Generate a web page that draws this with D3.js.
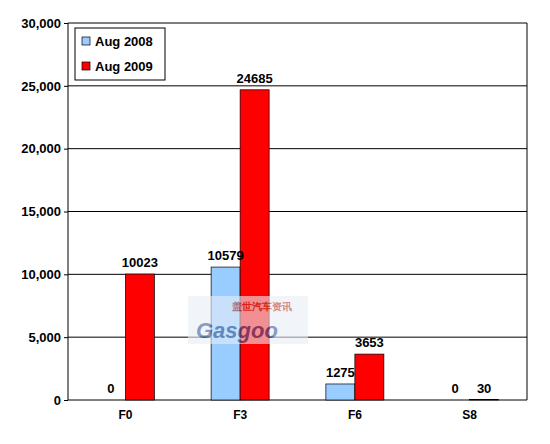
<!DOCTYPE html><html><head><meta charset="utf-8">
<script src="https://cdn.jsdelivr.net/npm/d3@7"></script>
<style>body{margin:0;background:#fff}text{font-family:"Liberation Sans",Arial,sans-serif;font-weight:bold}</style>
</head><body><svg id="c" width="550" height="444"></svg>
<script>
const categories=["F0","F3","F6","S8"];
const series2008=[0,10579,1275,0];
const series2009=[10023,24685,3653,30];
const seriesNames=["Aug 2008","Aug 2009"];
const colors=["#99ccff","#ff0000"];
const yTicks=[0,5000,10000,15000,20000,25000,30000];
const svg=d3.select("#c");
const L=68,R=527,T=23,B=400;
const x=d3.scaleBand().domain(categories).range([L,R]);
const y=d3.scaleLinear().domain([0,30000]).range([B,T]);
const g=svg.append("g");
g.selectAll(".grid").data(yTicks).join("line").attr("x1",L).attr("x2",R).attr("y1",d=>y(d)).attr("y2",d=>y(d)).attr("stroke","#000").attr("stroke-width",1);
g.append("line").attr("x1",L).attr("x2",L).attr("y1",T).attr("y2",B).attr("stroke","#000");
g.append("line").attr("x1",R).attr("x2",R).attr("y1",T).attr("y2",B).attr("stroke","#000");
const yAx=svg.append("g").attr("transform",`translate(${L},0)`).call(d3.axisLeft(y).tickValues(yTicks).tickFormat(d3.format(",")).tickSize(4));
yAx.select(".domain").remove();
yAx.selectAll("text").attr("font-size",13).attr("font-weight","bold").attr("fill","#000").attr("font-family","Liberation Sans");
const xAx=svg.append("g").attr("transform",`translate(0,${B})`).call(d3.axisBottom(x).tickSize(0).tickPadding(10));
xAx.select(".domain").remove();
xAx.selectAll("text").attr("font-size",12).attr("font-weight","bold").attr("fill","#000").attr("font-family","Liberation Serif");
const bw=29;
const data=[series2008,series2009];
data.forEach((s,i)=>{
 svg.selectAll(".b"+i).data(categories).join("rect")
  .attr("x",d=>x(d)+x.bandwidth()/2+(i-1)*bw).attr("width",bw)
  .attr("y",(d,j)=>y(s[j])).attr("height",(d,j)=>B-y(s[j]))
  .attr("fill",colors[i]).attr("stroke","#000").attr("stroke-width",0.7);
});
// watermark
const wm=svg.append("g").attr("opacity",0.6);
wm.append("rect").attr("x",188).attr("y",296).attr("width",120).attr("height",48).attr("fill","#e8eef6");
wm.append("text").attr("x",196).attr("y",338).attr("font-size",22).attr("fill","#3a5a9a").attr("font-style","italic").text("Gasgoo");
wm.append("text").attr("x",232).attr("y",310).attr("font-size",10).attr("fill","#c0392b").attr("font-family","Noto Sans CJK SC").text("盖世汽车资讯");
data.forEach((s,i)=>{
 svg.selectAll(".l"+i).data(categories).join("text")
  .attr("x",d=>x(d)+x.bandwidth()/2+(i-0.5)*bw).attr("y",(d,j)=>y(s[j])-7)
  .attr("text-anchor","middle").attr("font-size",13).text((d,j)=>s[j]);
});
const lg=svg.append("g");
lg.append("rect").attr("x",75).attr("y",28).attr("width",90).attr("height",52).attr("fill","#fff").attr("stroke","#000");
seriesNames.forEach((n,i)=>{
 lg.append("rect").attr("x",82).attr("y",37+i*25).attr("width",8).attr("height",8).attr("fill",colors[i]).attr("stroke","#000").attr("stroke-width",0.7);
 lg.append("text").attr("x",95).attr("y",46+i*25).attr("font-size",13).text(n);
});
</script></body></html>
